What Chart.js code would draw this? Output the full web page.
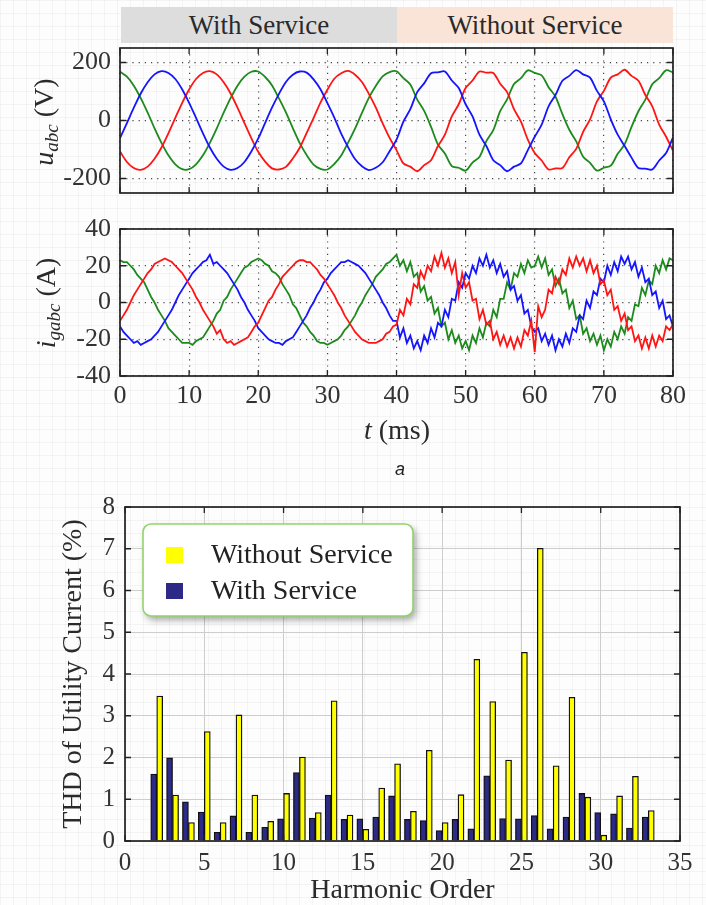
<!DOCTYPE html>
<html>
<head>
<meta charset="utf-8">
<title>Utility voltage, current and harmonic THD</title>
<script src="https://cdn.jsdelivr.net/npm/chart.js@4.4.1/dist/chart.umd.min.js"></script>
<style>
  html, body { margin: 0; padding: 0; }
  body {
    width: 706px; height: 905px; overflow: hidden; position: relative;
    background-color: #fdfdfd;
    background-image:
      linear-gradient(rgba(0,0,0,0.035) 1px, transparent 1px),
      linear-gradient(90deg, rgba(0,0,0,0.035) 1px, transparent 1px);
    background-size: 13px 13px;
    font-family: 'Liberation Serif', serif;
    color: #2a2a2a;
  }
  canvas { position: absolute; left: 0; }
  .band {
    position: absolute; top: 7px; height: 36px;
    display: flex; align-items: center; justify-content: center;
    font-size: 27px;
  }
  .lbl { position: absolute; white-space: nowrap; transform: translate(-50%, -50%); font-size: 28px; line-height: 1; }
  .rot { transform: translate(-50%, -50%) rotate(-90deg); }
  .lbl sub { font-size: 19px; font-style: italic; vertical-align: -5px; }
  .fig { font-family: 'Liberation Sans', sans-serif; font-style: italic; font-size: 18px; color: #222; }
</style>
</head>
<body>

<canvas id="volt" width="706" height="205" style="top:0px"></canvas>
<canvas id="curr" width="706" height="245" style="top:205px"></canvas>
<canvas id="thd" width="706" height="455" style="top:450px"></canvas>

<div class="band" style="left:121px; width:276px; background:#dddddd;">With Service</div>
<div class="band" style="left:397px; width:276px; background:#f9e4d7;">Without Service</div>

<div class="lbl rot" style="left:45px; top:122px;"><i>u</i><sub>abc</sub> (V)</div>
<div class="lbl rot" style="left:47px; top:303px;"><i>i</i><sub>gabc</sub> (A)</div>
<div class="lbl" style="left:397px; top:430px;"><i>t</i> (ms)</div>
<div class="lbl fig" style="left:400px; top:469px;">a</div>

<script>
Chart.defaults.font.family = "'Liberation Serif', 'Times New Roman', serif";
Chart.defaults.color = '#333';

// ---- waveform axes ----
const timeTicks = [0, 10, 20, 30, 40, 50, 60, 70, 80];
const voltTicks = [-200, 0, 200];
const currTicks = [-40, -20, 0, 20, 40];
const voltStep = 1;    // ms between voltage samples
const currStep = 0.5;  // ms between current samples

// utility voltages (V), one sample per ms, 0..80 ms
const uBlue = [
  -61, -9, 44, 93, 132, 159, 170, 164, 143, 107, 61, 9, -44, -93, -132, -159, -170, -164, -143, -107,
  -62, -8, 45, 92, 133, 158, 169, 165, 142, 108, 60, 10, -45, -92, -133, -158, -171, -163, -144, -106,
  -66, -4, 39, 98, 128, 163, 166, 169, 138, 112, 56, 14, -49, -88, -137, -154, -175, -159, -148, -102,
  -56, -14, 49, 88, 137, 154, 174, 159, 148, 102, 66, 4, -49, -88, -128, -164, -166, -169, -138, -112,
  -58
];
const uRed = [
  -107, -143, -164, -170, -159, -132, -93, -44, 9, 61, 107, 143, 164, 170, 159, 132, 93, 44, -9, -61,
  -108, -142, -165, -169, -160, -131, -94, -43, 8, 62, 106, 144, 163, 171, 158, 133, 92, 45, -10, -60,
  -102, -148, -159, -175, -154, -137, -88, -49, 14, 56, 112, 138, 169, 165, 164, 127, 98, 39, -4, -66,
  -112, -138, -169, -165, -164, -127, -98, -39, 4, 66, 102, 148, 159, 175, 154, 137, 88, 49, -14, -56,
  -104
];
const uGreen = [
  168, 151, 120, 77, 27, -27, -77, -120, -151, -168, -168, -151, -120, -77, -27, 27, 77, 120, 151, 168,
  169, 150, 121, 76, 28, -26, -78, -119, -152, -167, -169, -150, -121, -76, -28, 26, 78, 119, 152, 167,
  170, 146, 124, 72, 33, -22, -83, -114, -157, -163, -173, -145, -126, -71, -33, 32, 73, 126, 146, 173,
  164, 156, 115, 82, 22, -32, -72, -125, -146, -173, -163, -156, -115, -82, -22, 32, 72, 125, 146, 173,
  166
];

// grid currents (A), one sample per 0.5 ms, 0..80 ms
const iRed = [
  -10, -7, -4, 0, 4, 7, 10, 13, 16, 18, 21, 22, 23, 24, 23, 22, 20, 18, 16, 13,
  10, 7, 3, 0, -4, -7, -10, -13, -17, -15, -20, -22, -21, -23, -22, -21, -20, -19, -16, -13,
  -11, -7, -3, 1, 3, 7, 10, 14, 16, 18, 20, 22, 23, 23, 22, 22, 20, 18, 15, 13,
  10, 7, 4, 0, -3, -7, -10, -13, -16, -18, -20, -21, -22, -22, -22, -21, -20, -17, -16, -13,
  -12, -4, -7, 2, -1, 10, 8, 17, 13, 20, 17, 25, 20, 27, 19, 24, 16, 22, 4, 16,
  8, 11, 1, 2, -9, -4, -12, -10, -20, -16, -23, -18, -24, -19, -25, -19, -24, -15, -18, -10,
  -27, -2, -8, -4, 7, 5, 14, 10, 18, 15, 24, 19, 25, 20, 24, 17, 23, 16, 20, 10,
  12, 4, 7, -4, -2, -10, -6, -15, -13, -21, -18, -25, -19, -25, -18, -24, -18, -21, -13, -15,
  -12
];
const iBlue = [
  -13, -16, -18, -20, -22, -21, -23, -22, -21, -20, -18, -16, -13, -10, -7, -4, 0, 4, 7, 10,
  13, 16, 18, 20, 22, 23, 26, 21, 22, 20, 18, 16, 13, 10, 7, 3, 0, -4, -7, -10,
  -14, -16, -18, -20, -21, -22, -22, -23, -21, -20, -19, -16, -13, -10, -7, -3, 0, 4, 7, 11,
  13, 16, 18, 20, 22, 22, 23, 22, 21, 20, 18, 16, 13, 10, 7, 4, 0, -3, -7, -10,
  -10, -19, -14, -22, -18, -25, -21, -26, -18, -22, -14, -19, -11, -13, -4, -8, 2, 1, 11, 8,
  16, 13, 20, 16, 24, 20, 26, 19, 23, 16, 21, 14, 17, 7, 9, 1, 4, -6, -4, -13,
  -16, -14, -21, -17, -23, -18, -26, -20, -24, -17, -22, -14, -16, -7, -9, 1, -3, 6, 4, 13,
  11, 20, 15, 22, 17, 25, 21, 25, 18, 22, 14, 19, 11, 13, 4, 6, -3, 1, -9, -7,
  -13
];
const iGreen = [
  23, 22, 22, 20, 18, 15, 13, 11, 7, 3, 0, -4, -7, -10, -14, -16, -18, -20, -22, -22,
  -22, -23, -21, -20, -19, -16, -13, -10, -6, -4, 1, 3, 7, 10, 13, 16, 19, 20, 22, 23,
  24, 23, 21, 20, 17, 16, 14, 10, 7, 4, -1, -3, -7, -11, -13, -16, -18, -21, -22, -22,
  -23, -22, -21, -20, -18, -15, -13, -10, -7, -3, 0, 4, 7, 10, 14, 16, 18, 21, 22, 24,
  26, 20, 23, 17, 22, 14, 16, 6, 9, 1, 3, -6, -3, -13, -11, -20, -15, -22, -18, -25,
  -21, -26, -18, -22, -14, -19, -11, -13, -4, -8, 2, 2, 11, 7, 16, 14, 21, 16, 23, 19,
  20, 25, 19, 24, 15, 18, 9, 13, 5, 7, -3, 1, -9, -7, -17, -14, -21, -17, -23, -18,
  -26, -20, -24, -16, -20, -13, -17, -8, -10, -1, -2, 8, 4, 12, 10, 20, 16, 23, 18, 24,
  23
];

// ---- harmonic spectrum ----
const harmonicOrders = [2, 3, 4, 5, 6, 7, 8, 9, 10, 11, 12, 13, 14, 15, 16, 17,
                        18, 19, 20, 21, 22, 23, 24, 25, 26, 27, 28, 29, 30, 31, 32, 33];
const thdWithService = [1.60, 1.99, 0.94, 0.69, 0.21, 0.60, 0.21, 0.33, 0.53, 1.64, 0.55, 1.10, 0.52, 0.53, 0.57, 1.08,
                        0.52, 0.49, 0.25, 0.52, 0.29, 1.56, 0.54, 0.53, 0.61, 0.29, 0.57, 1.14, 0.68, 0.65, 0.31, 0.57];
const thdWithoutService = [3.47, 1.10, 0.44, 2.62, 0.44, 3.02, 1.10, 0.47, 1.14, 2.01, 0.68, 3.36, 0.62, 0.28, 1.27, 1.85,
                           0.71, 2.17, 0.44, 1.11, 4.35, 3.34, 1.94, 4.52, 7.01, 1.80, 3.44, 1.05, 0.14, 1.08, 1.55, 0.73];
const harmonicTicks = [0, 5, 10, 15, 20, 25, 30, 35];
const thdTicks = [0, 1, 2, 3, 4, 5, 6, 7, 8];

const BLUE = '#1414ff', RED = '#ff1414', GREEN = '#1d8a1d';

function pts(values, step) {
  return values.map((v, i) => ({ x: i * step, y: v }));
}
function fixedTicks(list) {
  return scale => { scale.ticks = list.map(v => ({ value: v })); };
}
function roundRectPath(ctx, x, y, w, h, r) {
  ctx.beginPath();
  ctx.moveTo(x + r, y);
  ctx.arcTo(x + w, y, x + w, y + h, r);
  ctx.arcTo(x + w, y + h, x, y + h, r);
  ctx.arcTo(x, y + h, x, y, r);
  ctx.arcTo(x, y, x + w, y, r);
  ctx.closePath();
}

// box around the plot with inward tick marks
const framePlugin = {
  id: 'frame',
  afterDraw(chart, args, opts) {
    const { ctx, chartArea: a } = chart;
    const xs = chart.scales.x, ys = chart.scales.y;
    const L = opts.tick || 6;
    ctx.save();
    ctx.strokeStyle = '#222';
    ctx.lineWidth = 1.3;
    ctx.beginPath();
    xs.ticks.forEach(t => {
      const px = xs.getPixelForValue(t.value);
      ctx.moveTo(px, a.top); ctx.lineTo(px, a.top + L);
      ctx.moveTo(px, a.bottom); ctx.lineTo(px, a.bottom - L);
    });
    ys.ticks.forEach(t => {
      const py = ys.getPixelForValue(t.value);
      ctx.moveTo(a.left, py); ctx.lineTo(a.left + L, py);
      ctx.moveTo(a.right, py); ctx.lineTo(a.right - L, py);
    });
    ctx.stroke();
    ctx.lineWidth = 1.7;
    ctx.strokeRect(a.left, a.top, a.right - a.left, a.bottom - a.top);
    ctx.restore();
  }
};

// boxed legend with soft shadow
const boxLegend = {
  id: 'boxLegend',
  afterDraw(chart, args, o) {
    if (!o || !o.box) return;
    const ctx = chart.ctx;
    const { x, y, w, h, r } = o.box;
    ctx.save();
    ctx.shadowColor = 'rgba(0,0,0,0.35)';
    ctx.shadowBlur = 7;
    ctx.shadowOffsetX = 3;
    ctx.shadowOffsetY = 4;
    roundRectPath(ctx, x, y, w, h, r);
    ctx.fillStyle = '#ffffff';
    ctx.fill();
    ctx.shadowColor = 'transparent';
    ctx.lineWidth = 1.6;
    ctx.strokeStyle = '#92d36c';
    ctx.stroke();
    o.order.forEach((di, row) => {
      const ds = chart.data.datasets[di];
      const cy = y + o.firstRow + row * o.rowGap;
      ctx.fillStyle = ds.backgroundColor;
      ctx.fillRect(x + o.swatchX, cy - 8, 17, 16);
      ctx.fillStyle = '#222';
      ctx.font = o.font;
      ctx.textBaseline = 'alphabetic';
      ctx.fillText(ds.label, x + o.textX, cy + 8);
    });
    ctx.restore();
  }
};

function waveOptions(yMin, yMax, yTicks, showX, padTop, xHeight) {
  return {
    responsive: false,
    animation: false,
    events: [],
    layout: { padding: { top: padTop, right: 33, bottom: 0, left: 0 } },
    elements: { point: { radius: 0 }, line: { borderWidth: 1.8 } },
    plugins: { legend: { display: false }, tooltip: { enabled: false }, frame: { tick: 6 } },
    scales: {
      x: {
        type: 'linear', min: 0, max: 80,
        afterBuildTicks: fixedTicks(timeTicks),
        ticks: { display: showX, font: { size: 26 }, padding: 5, maxRotation: 0, autoSkip: false },
        grid: { color: '#444', lineWidth: 1.2, drawTicks: false },
        border: { display: false, dash: [1.2, 5] },
        afterFit: s => { s.height = xHeight; s.paddingLeft = 0; s.paddingRight = 0; }
      },
      y: {
        min: yMin, max: yMax,
        afterBuildTicks: fixedTicks(yTicks),
        ticks: { font: { size: 26 }, padding: 9 },
        grid: { color: '#444', lineWidth: 1.2, drawTicks: false },
        border: { display: false, dash: [1.2, 5] },
        afterFit: s => { s.width = 120; s.paddingTop = 0; s.paddingBottom = 0; }
      }
    }
  };
}

new Chart(document.getElementById('volt'), {
  type: 'line',
  data: {
    datasets: [
      { label: 'u blue', data: pts(uBlue, voltStep), borderColor: BLUE, tension: 0.3 },
      { label: 'u red', data: pts(uRed, voltStep), borderColor: RED, tension: 0.3 },
      { label: 'u green', data: pts(uGreen, voltStep), borderColor: GREEN, tension: 0.3 }
    ]
  },
  options: waveOptions(-250, 250, voltTicks, false, 48, 12),
  plugins: [framePlugin]
});

new Chart(document.getElementById('curr'), {
  type: 'line',
  data: {
    datasets: [
      { label: 'i red', data: pts(iRed, currStep), borderColor: RED, tension: 0 },
      { label: 'i blue', data: pts(iBlue, currStep), borderColor: BLUE, tension: 0 },
      { label: 'i green', data: pts(iGreen, currStep), borderColor: GREEN, tension: 0 }
    ]
  },
  options: waveOptions(-40, 40, currTicks, true, 24, 74),
  plugins: [framePlugin]
});

new Chart(document.getElementById('thd'), {
  type: 'bar',
  data: {
    datasets: [
      {
        label: 'With Service',
        data: harmonicOrders.map((h, i) => ({ x: h, y: thdWithService[i] })),
        backgroundColor: '#2c2a86', borderColor: '#111', borderWidth: 1.3
      },
      {
        label: 'Without Service',
        data: harmonicOrders.map((h, i) => ({ x: h, y: thdWithoutService[i] })),
        backgroundColor: '#ffff00', borderColor: '#111', borderWidth: 1.3
      }
    ]
  },
  options: {
    responsive: false,
    animation: false,
    events: [],
    layout: { padding: { top: 57, right: 26, bottom: 0, left: 0 } },
    datasets: { bar: { barThickness: 6 } },
    plugins: {
      legend: { display: false },
      tooltip: { enabled: false },
      frame: { tick: 6 },
      boxLegend: {
        box: { x: 143, y: 74, w: 270, h: 92, r: 8 },
        order: [1, 0], firstRow: 31, rowGap: 36, swatchX: 23, textX: 68,
        font: "28px 'Liberation Serif', serif"
      }
    },
    scales: {
      x: {
        type: 'linear', min: 0, max: 35, offset: false,
        afterBuildTicks: fixedTicks(harmonicTicks),
        ticks: { font: { size: 25 }, padding: 7, maxRotation: 0, autoSkip: false },
        grid: { color: '#cdcdcd', lineWidth: 1, drawTicks: false, offset: false },
        border: { display: false },
        title: { display: true, text: 'Harmonic Order', color: '#2a2a2a',
                 font: { size: 28, lineHeight: 1 }, padding: { top: 0, bottom: 0 } },
        afterFit: s => { s.height = 64; s.paddingLeft = 0; s.paddingRight = 0; }
      },
      y: {
        min: 0, max: 8,
        afterBuildTicks: fixedTicks(thdTicks),
        ticks: { font: { size: 25 }, padding: 10 },
        grid: { color: '#cdcdcd', lineWidth: 1, drawTicks: false },
        border: { display: false },
        title: { display: true, text: 'THD of Utility Current (%)', color: '#2a2a2a',
                 font: { size: 28, lineHeight: 1 }, padding: { top: 60, bottom: 0 } },
        afterFit: s => { s.width = 125; s.paddingTop = 0; s.paddingBottom = 0; }
      }
    }
  },
  plugins: [framePlugin, boxLegend]
});
</script>
</body>
</html>
